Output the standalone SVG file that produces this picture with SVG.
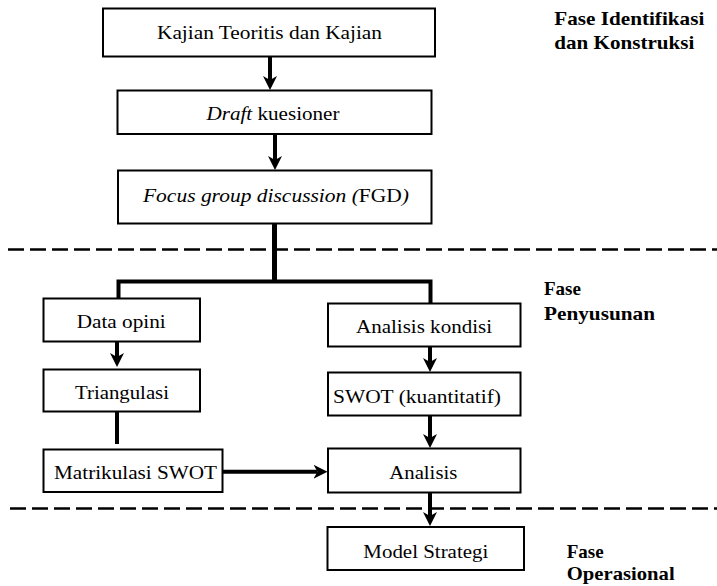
<svg xmlns="http://www.w3.org/2000/svg" width="717" height="586" viewBox="0 0 717 586">
<defs>
<style>
.box{fill:#fff;stroke:#000;stroke-width:2}
.c{fill:none;stroke:#000;stroke-width:4}
.d{fill:none;stroke:#000;stroke-width:2.5;stroke-dasharray:16 6}
</style>
<marker id="ah" viewBox="0 0 14 14" refX="4" refY="7" markerWidth="14" markerHeight="14" orient="auto" markerUnits="userSpaceOnUse">
<path d="M0,0 L14,7 L0,14 L4,7 Z" fill="#000"/>
</marker>
</defs>
<rect width="717" height="586" fill="#fff"/>

<g id="phase-lines">
<line class="d" x1="8" y1="249.5" x2="717" y2="249.5"/>
<line class="d" x1="10" y1="508.5" x2="717" y2="508.5"/>
</g>

<g id="connectors">
<line class="c" x1="270" y1="56" x2="270" y2="80" marker-end="url(#ah)"/>
<line class="c" x1="275" y1="134" x2="275" y2="160" marker-end="url(#ah)"/>
<line class="c" x1="274.5" y1="223" x2="274.5" y2="283" style="stroke-width:5"/>
<polyline class="c" points="118.5,300 118.5,281.5 430.5,281.5 430.5,304"/>
<line class="c" x1="117" y1="341" x2="117" y2="357" marker-end="url(#ah)"/>
<line class="c" x1="117" y1="412" x2="117" y2="444"/>
<line class="c" x1="430" y1="346" x2="430" y2="362" marker-end="url(#ah)"/>
<line class="c" x1="430" y1="416" x2="430" y2="438" marker-end="url(#ah)"/>
<line class="c" x1="223" y1="471.7" x2="317.5" y2="471.7" marker-end="url(#ah)"/>
<line class="c" x1="430" y1="493" x2="430" y2="516" marker-end="url(#ah)"/>
</g>

<g id="nodes" font-family="Liberation Serif" font-size="19" fill="#000">
<g id="n1"><rect class="box" x="103" y="8.5" width="332" height="48"/>
<text x="157" y="38.5" textLength="225" lengthAdjust="spacingAndGlyphs">Kajian Teoritis dan Kajian</text></g>

<g id="n2"><rect class="box" x="117.5" y="90.5" width="314" height="43.5"/>
<text x="206.5" y="120" textLength="133" lengthAdjust="spacingAndGlyphs"><tspan font-style="italic">Draft</tspan> kuesioner</text></g>

<g id="n3"><rect class="box" x="118" y="170.5" width="313.5" height="53"/>
<text x="143" y="201.5" textLength="266" lengthAdjust="spacingAndGlyphs"><tspan font-style="italic">Focus group discussion (</tspan>FGD<tspan font-style="italic">)</tspan></text></g>

<g id="n4"><rect class="box" x="43.5" y="298.5" width="156.5" height="43"/>
<text x="76.7" y="328" textLength="89" lengthAdjust="spacingAndGlyphs">Data opini</text></g>

<g id="n5"><rect class="box" x="43.5" y="369.5" width="156.5" height="42"/>
<text x="75" y="399" textLength="94" lengthAdjust="spacingAndGlyphs">Triangulasi</text></g>

<g id="n6"><rect class="box" x="43.5" y="449.5" width="179" height="42.5"/>
<text x="54" y="478.5" textLength="163" lengthAdjust="spacingAndGlyphs">Matrikulasi SWOT</text></g>

<g id="n7"><rect class="box" x="328" y="303.5" width="192.5" height="43"/>
<text x="356" y="333" textLength="136" lengthAdjust="spacingAndGlyphs">Analisis kondisi</text></g>

<g id="n8"><rect class="box" x="328" y="372.5" width="192.5" height="43"/>
<text x="333" y="403" textLength="168" lengthAdjust="spacingAndGlyphs">SWOT (kuantitatif)</text></g>

<g id="n9"><rect class="box" x="328" y="448.5" width="192.5" height="44"/>
<text x="389.3" y="479" textLength="68" lengthAdjust="spacingAndGlyphs">Analisis</text></g>

<g id="n10"><rect class="box" x="327.5" y="527" width="196.5" height="43"/>
<text x="363.3" y="558" textLength="125" lengthAdjust="spacingAndGlyphs">Model Strategi</text></g>
</g>

<g id="phase-labels" font-family="Liberation Serif" font-size="19" font-weight="bold" fill="#000">
<text x="554.3" y="25" textLength="150" lengthAdjust="spacingAndGlyphs">Fase Identifikasi</text>
<text x="554.3" y="48.5" textLength="140" lengthAdjust="spacingAndGlyphs">dan Konstruksi</text>
<text x="544" y="295">Fase</text>
<text x="544" y="320" textLength="111" lengthAdjust="spacingAndGlyphs">Penyusunan</text>
<text x="566.7" y="558">Fase</text>
<text x="566.7" y="579.5" textLength="108" lengthAdjust="spacingAndGlyphs">Operasional</text>
</g>
</svg>
